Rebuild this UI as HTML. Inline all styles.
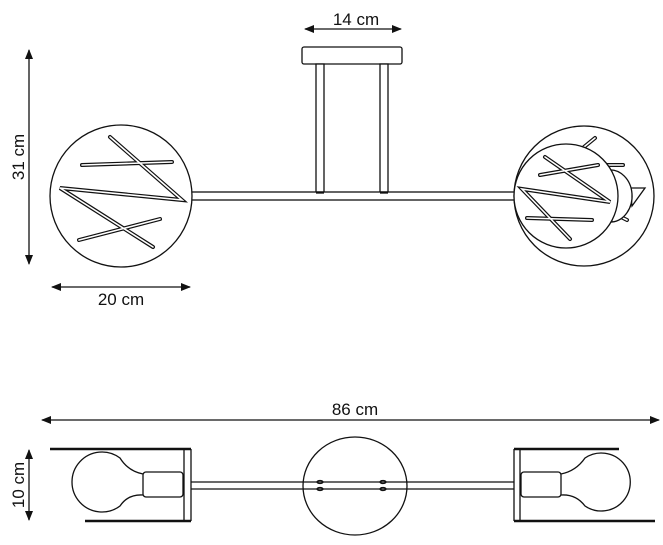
<!DOCTYPE html>
<html><head><meta charset="utf-8"><style>
html,body{margin:0;padding:0;background:#fff;}
svg{display:block;}
text{font-family:"Liberation Sans","DejaVu Sans",sans-serif;font-size:17px;fill:#111;}
</style></head><body>
<svg width="663" height="545" viewBox="0 0 663 545" xmlns="http://www.w3.org/2000/svg">
<defs>
<marker id="ah" markerWidth="10" markerHeight="8" refX="9" refY="4" orient="auto-start-reverse" markerUnits="userSpaceOnUse">
<path d="M0,0 L10,4 L0,8 Z" fill="#111"/></marker>
</defs>
<g stroke="#111" stroke-width="1.3" fill="none">
<line x1="29" y1="50" x2="29" y2="264" marker-start="url(#ah)" marker-end="url(#ah)"/>
<line x1="52" y1="287" x2="190" y2="287" marker-start="url(#ah)" marker-end="url(#ah)"/>
<line x1="305" y1="29" x2="401" y2="29" marker-start="url(#ah)" marker-end="url(#ah)"/>
<line x1="42" y1="420" x2="659" y2="420" marker-start="url(#ah)" marker-end="url(#ah)"/>
<line x1="29" y1="450" x2="29" y2="520" marker-start="url(#ah)" marker-end="url(#ah)"/>

<rect x="302" y="47" width="100" height="17" rx="2" fill="#fff"/>
<rect x="316" y="64" width="8" height="128" fill="#fff"/>
<rect x="380" y="64" width="8" height="128" fill="#fff"/>
<rect x="191" y="192" width="325" height="8" fill="#fff"/>
<line x1="316" y1="193" x2="324" y2="193"/><line x1="380" y1="193" x2="388" y2="193"/>

<circle cx="121" cy="196" r="71" fill="#fff"/>
</g>
<g stroke-linecap="round" fill="none">
<g stroke="#111" stroke-width="4">
<path d="M110,137 L182,200 L60,188 L153,247"/>
<line x1="82" y1="165" x2="172" y2="162"/>
<line x1="79" y1="240" x2="160" y2="219"/>
</g>
<g stroke="#fff" stroke-width="1.6">
<path d="M110,137 L182,200 L60,188 L153,247"/>
<line x1="82" y1="165" x2="172" y2="162"/>
<line x1="79" y1="240" x2="160" y2="219"/>
</g>
</g>

<g stroke="#111" stroke-width="1.3" fill="none">
<circle cx="584" cy="196" r="70" fill="#fff"/>
</g>
<g stroke-linecap="round" fill="none">
<g stroke="#111" stroke-width="4">
<line x1="584" y1="147" x2="595" y2="138"/>
<line x1="607" y1="165" x2="623" y2="165"/>
<line x1="613" y1="213" x2="627" y2="220"/>
</g>
<g stroke="#fff" stroke-width="1.6">
<line x1="584" y1="147" x2="595" y2="138"/>
<line x1="607" y1="165" x2="623" y2="165"/>
<line x1="613" y1="213" x2="627" y2="220"/>
</g>
</g>
<g stroke="#111" stroke-width="1.3" fill="#fff">
<path d="M630,188 L645,188 L632,206 Z"/>
<path d="M608,170 A22,26 0 0 1 612,222 Z"/>
<circle cx="566" cy="196" r="52"/>
</g>
<g stroke-linecap="round" fill="none">
<g stroke="#111" stroke-width="4">
<path d="M545,157 L610,202 L522,189 L570,239"/>
<line x1="540" y1="175" x2="598" y2="165"/>
<line x1="527" y1="218" x2="592" y2="220"/>
</g>
<g stroke="#fff" stroke-width="1.6">
<path d="M545,157 L610,202 L522,189 L570,239"/>
<line x1="540" y1="175" x2="598" y2="165"/>
<line x1="527" y1="218" x2="592" y2="220"/>
</g>
</g>

<g stroke="#111" stroke-width="1.3" fill="none">
<ellipse cx="355" cy="486" rx="52" ry="49"/>
<line x1="191" y1="482" x2="514" y2="482"/>
<line x1="191" y1="489" x2="514" y2="489"/>
<ellipse cx="320" cy="482" rx="3" ry="1.5"/><ellipse cx="320" cy="489" rx="3" ry="1.5"/>
<ellipse cx="383" cy="482" rx="3" ry="1.5"/><ellipse cx="383" cy="489" rx="3" ry="1.5"/>
<line x1="184" y1="449" x2="184" y2="521"/>
<line x1="191" y1="449" x2="191" y2="521"/>
<line x1="50" y1="449" x2="191" y2="449" stroke-width="2.5"/>
<line x1="85" y1="521" x2="191" y2="521" stroke-width="2.5"/>
<rect x="143" y="472" width="40" height="25" rx="3"/>
<path d="M143,474 Q128,471 120,458 A30,30 0 1 0 120,506 Q128,494 143,495"/>
<line x1="514" y1="449" x2="514" y2="521"/>
<line x1="520" y1="449" x2="520" y2="521"/>
<line x1="514" y1="449" x2="619" y2="449" stroke-width="2.5"/>
<line x1="514" y1="521" x2="655" y2="521" stroke-width="2.5"/>
<rect x="521" y="472" width="40" height="25" rx="3"/>
<path d="M561,474 Q576,471 585,458 A29,29 0 1 1 585,506 Q576,494 561,495"/>
</g>

<text x="356" y="25" text-anchor="middle">14 cm</text>
<text x="121" y="305" text-anchor="middle">20 cm</text>
<text x="355" y="415" text-anchor="middle">86 cm</text>
<text transform="translate(24,157) rotate(-90)" text-anchor="middle">31 cm</text>
<text transform="translate(24,485) rotate(-90)" text-anchor="middle">10 cm</text>
</svg>
</body></html>
